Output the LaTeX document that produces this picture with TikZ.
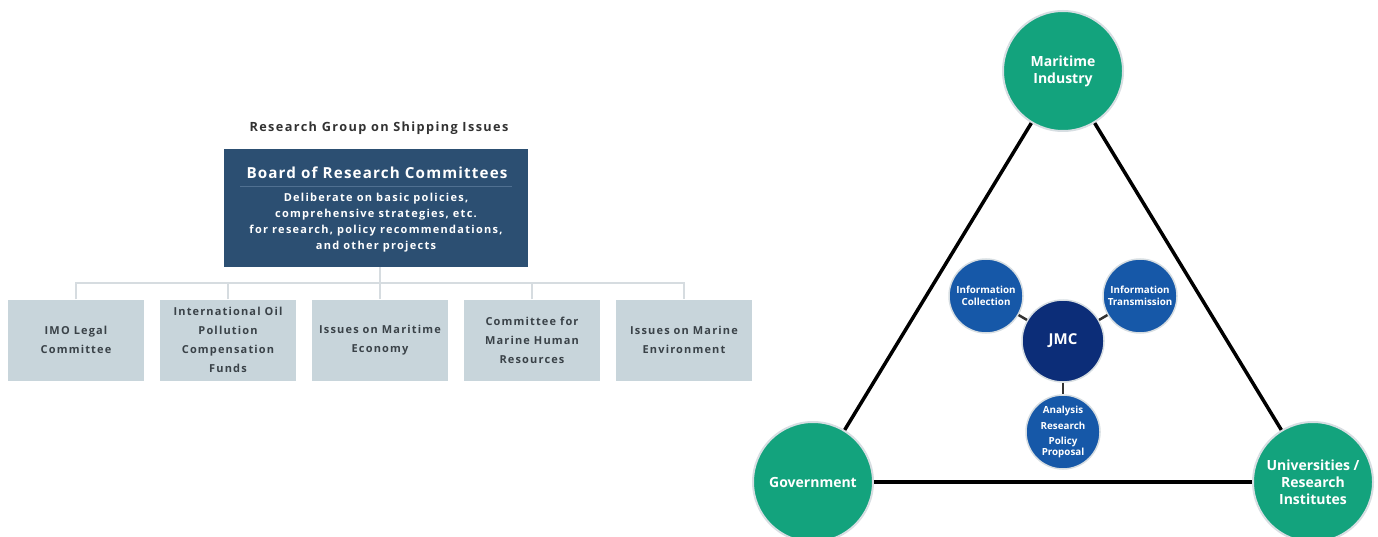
\documentclass[tikz,border=0pt]{standalone}
\usepackage{fontspec}
\setmainfont{Open Sans}
\newfontfamily\lsA{Open Sans}[LetterSpace=11]
\newfontfamily\lsB{Open Sans}[LetterSpace=7.5]
\newfontfamily\lsC{Open Sans}[LetterSpace=11.5]
\newfontfamily\lsD{Open Sans}[LetterSpace=10.5]
\definecolor{board}{RGB}{44,79,114}
\definecolor{boardline}{RGB}{80,112,145}
\definecolor{subbox}{RGB}{200,213,219}
\definecolor{connline}{RGB}{214,220,224}
\definecolor{boxtext}{RGB}{58,66,72}
\definecolor{headtext}{RGB}{50,50,50}
\definecolor{green}{RGB}{19,163,125}
\definecolor{navy}{RGB}{12,45,120}
\definecolor{midblue}{RGB}{22,88,168}
\definecolor{ringgray}{RGB}{215,222,226}
\tikzset{
  subnode/.style={rectangle, fill=subbox, minimum width=136pt, minimum height=81pt, inner sep=0pt,
    align=center, text=boxtext, font=\lsD\bfseries\fontsize{11}{19}\selectfont},
  conn/.style={draw=connline, line width=1.2pt},
  bigcirc/.style={circle, fill=green, draw=ringgray, line width=2pt, minimum size=120pt, inner sep=0pt,
    text=white, align=center, font=\bfseries\fontsize{14}{17}\selectfont},
  smallcirc/.style={circle, fill=midblue, draw=ringgray, line width=1.5pt, minimum size=74pt, inner sep=0pt,
    text=white, align=center, font=\bfseries\fontsize{9.8}{11.5}\selectfont},
  tri/.style={draw=black, line width=3.5pt},
  spoke/.style={draw=black!80, line width=2.5pt},
}
\begin{document}
\begin{tikzpicture}[x=1pt,y=-1pt]
\useasboundingbox (0,0) rectangle (1378,537);
% Left: org chart
\node[text=headtext, font=\lsA\bfseries\fontsize{12.7}{15}\selectfont] (head) at (379,128) {Research Group on Shipping Issues};
\node[rectangle, fill=board, minimum width=304pt, minimum height=118pt, inner sep=0pt] (board) at (376,208) {};
\node[text=white, font=\lsB\bfseries\fontsize{15.2}{18}\selectfont] (btitle) at (377,173) {Board of Research Committees};
\draw[boardline, line width=0.8pt] (240,186) -- (512,186);
\node[text=white, align=center, font=\lsC\bfseries\fontsize{11}{15.8}\selectfont] (bbody) at (376,222.5)
  {Deliberate on basic policies,\\comprehensive strategies, etc.\\for research, policy recommendations,\\and other projects};
\node[subnode] (s1) at (76,340) {IMO Legal\\Committee};
\node[subnode] (s2) at (228,340) {International Oil\\Pollution\\Compensation\\Funds};
\node[subnode] (s3) at (380,340) {Issues on Maritime\\Economy};
\node[subnode] (s4) at (532,340) {Committee for\\Marine Human\\Resources};
\node[subnode] (s5) at (684,340) {Issues on Marine\\Environment};
\coordinate (bus) at (380,283);
\draw[conn] (board.south -| bus) -- (bus);
\draw[conn] (s1.north) |- (bus) -| (s5.north);
\draw[conn] (s2.north) -- (s2.north |- bus);
\draw[conn] (s3.north) -- (s3.north |- bus);
\draw[conn] (s4.north) -- (s4.north |- bus);
% Right: triangle
\node[bigcirc] (mi) at (1063,71) {Maritime\\Industry};
\node[bigcirc] (gov) at (813,482) {Government};
\node[bigcirc] (uni) at (1313,482) {Universities /\\Research\\Institutes};
\draw[tri] (mi) -- (gov);
\draw[tri] (mi) -- (uni);
\draw[tri] (gov) -- (uni);
\node[circle, fill=navy, draw=ringgray, line width=1.5pt, minimum size=82pt, inner sep=0pt, text=white,
  font=\bfseries\fontsize{15}{18}\selectfont] (jmc) at (1063,341) {JMC};
\node[smallcirc] (ic) at (986,296) {Information\\Collection};
\node[smallcirc] (it) at (1140,296) {Information\\Transmission};
\node[smallcirc, font=\bfseries\fontsize{9.8}{11}\selectfont] (ar) at (1063,432) {Analysis\\[4.5pt]Research\\[4.5pt]Policy\\Proposal};
\draw[spoke] (jmc) -- (ic);
\draw[spoke] (jmc) -- (it);
\draw[spoke] (jmc) -- (ar);
\end{tikzpicture}
\end{document}
